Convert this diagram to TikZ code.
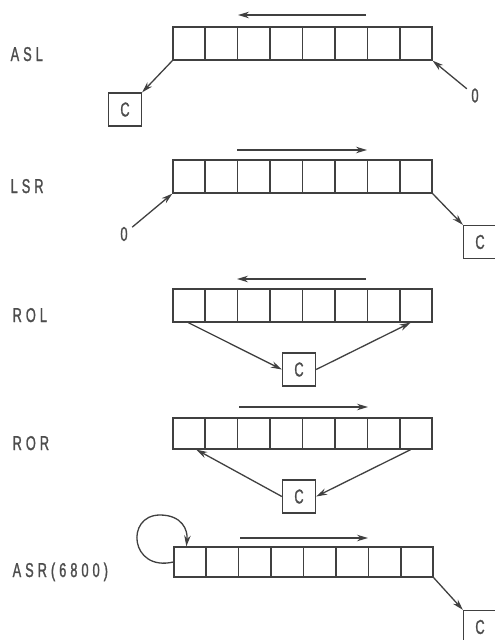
\documentclass[tikz,border=0pt]{standalone}
\usepackage{fontspec}
\setmainfont{Liberation Sans}
\newfontfamily\lblfont[FakeStretch=0.64,LetterSpace=20,FakeBold=1.2]{Liberation Sans}
\usetikzlibrary{calc,arrows.meta}
\definecolor{ink}{gray}{0.25}
\definecolor{txt}{gray}{0.3}
\begin{document}
\begin{tikzpicture}[x=1pt,y=-1pt,
  line width=1.3pt, draw=ink, color=ink,
  reg/.style={draw, minimum width=259pt, minimum height=33pt, inner sep=0pt, line width=1.3pt},
  cbox/.style={draw, minimum width=33pt, minimum height=33pt, inner sep=0pt, text=txt, font=\lblfont\fontsize{20}{22}\selectfont},
  lbl/.style={anchor=base west, inner sep=0pt, text=txt, font=\lblfont\fontsize{20}{22}\selectfont},
  zero/.style={inner sep=4pt, text=txt, font=\lblfont\fontsize{20}{22}\selectfont},
  arr/.style={-{Stealth[length=11pt,width=6.5pt]}, line width=1.3pt}
]
\useasboundingbox (0,0) rectangle (495,640);
\clip (0,0) rectangle (495,640);

% ASL
\node[lbl] (lA) at (10,61) {ASL};
\node[reg] (rA) at (302.5,43.5) {};
\node[cbox] (cA) at (125,109.5) {C};
\node[zero] (zA) at (475,95.5) {0};
\coordinate (tA1) at (366,15); \coordinate (tA2) at (238,15);
% LSR
\node[lbl] (lB) at (10,193) {LSR};
\node[reg] (rB) at (302.5,176.5) {};
\node[cbox] (cB) at (480,242) {C};
\node[zero] (zB) at (124,234) {0};
\coordinate (tB1) at (237,150); \coordinate (tB2) at (367,150);
% ROL
\node[lbl] (lC) at (12,322) {ROL};
\node[reg] (rC) at (302.5,305.5) {};
\node[cbox] (cC) at (299,369.5) {C};
\coordinate (tC1) at (366,279); \coordinate (tC2) at (237,279);
% ROR
\node[lbl] (lD) at (12,450) {ROR};
\node[reg, minimum height=31pt] (rD) at (302.5,433.5) {};
\node[cbox] (cD) at (299,496.5) {C};
\coordinate (tD1) at (239,407); \coordinate (tD2) at (368,407);
% ASR
\node[lbl] (lE) at (12,577) {ASR(6800)};
\node[reg, minimum height=30pt] (rE) at (303.5,562) {};
\node[cbox] (cE) at (480,627) {C};
\coordinate (tE1) at (240,538); \coordinate (tE2) at (368,538);

% cell dividers
\foreach \r in {rA,rB,rC,rD,rE}{
  \foreach \i in {1,...,7}{
    \draw ($(\r.north west)!\i/8!(\r.north east)$) -- ($(\r.south west)!\i/8!(\r.south east)$);
  }
}

% direction arrows
\draw[arr] (tA1) -- (tA2);
\draw[arr] (tB1) -- (tB2);
\draw[arr] (tC1) -- (tC2);
\draw[arr] (tD1) -- (tD2);
\draw[arr] (tE1) -- (tE2);

% ASL
\draw[arr] (rA.south west) -- (cA.north east);
\draw[arr] (zA) -- (rA.south east);
% LSR
\draw[arr] (zB) -- (rB.south west);
\draw[arr] (rB.south east) -- (cB.north west);
% ROL
\draw[arr] ($(rC.south west)+(16,0)$) -- (cC.west);
\draw[arr] (cC.east) -- ($(rC.south east)+(-22,0)$);
% ROR
\draw[arr] (cD.west) -- ($(rD.south west)+(24,0)$);
\draw[arr] ($(rD.south east)+(-22,0)$) -- (cD.east);
% ASR
\draw[arr] (rE.west) .. controls (130,572) and (125,515) .. (160,515)
   .. controls (182,515) and (188,530) .. ($(rE.north west)+(13,0)$);
\draw[arr] (rE.south east) -- (cE.north west);
\end{tikzpicture}
\end{document}
